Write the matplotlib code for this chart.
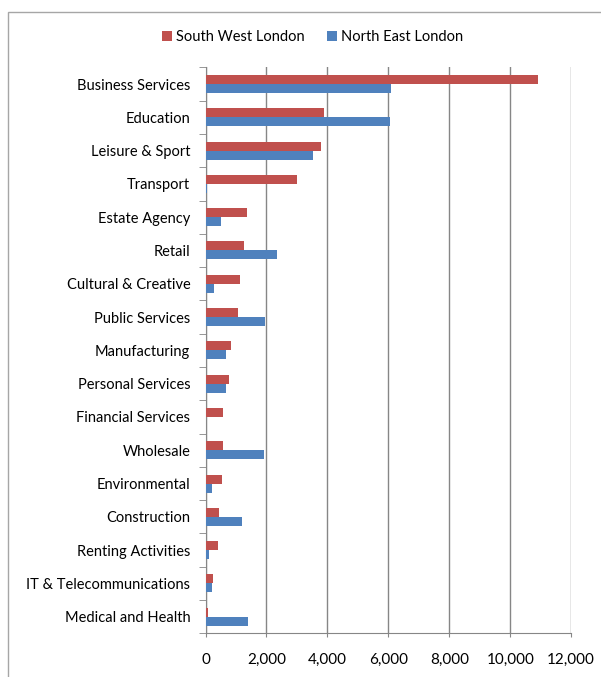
import matplotlib.pyplot as plt
import numpy as np
from matplotlib.patches import Rectangle

categories = ['Business Services', 'Education', 'Leisure & Sport', 'Transport',
              'Estate Agency', 'Retail', 'Cultural & Creative', 'Public Services',
              'Manufacturing', 'Personal Services', 'Financial Services', 'Wholesale',
              'Environmental', 'Construction', 'Renting Activities',
              'IT & Telecommunications', 'Medical and Health']
south_west = [10900, 3880, 3790, 3000, 1370, 1270, 1120, 1080, 830, 770,
              580, 580, 540, 450, 410, 230, 70]
north_east = [6080, 6050, 3530, 40, 510, 2340, 280, 1960, 670, 670,
              0, 1920, 220, 1210, 100, 200, 1400]

plt.rcParams['font.family'] = ['Lato', 'DejaVu Sans']

fig = plt.figure(figsize=(6.01, 6.77), dpi=100)
ax = fig.add_axes([0.342, 0.0645, 0.6084, 0.836])

n = len(categories)
y = np.arange(n)
h = 0.27
ax.barh(y - h / 2, south_west, height=h, color='#C0504D', label='South West London', zorder=3)
ax.barh(y + h / 2, north_east, height=h, color='#4F81BD', label='North East London', zorder=3)

ax.set_ylim(n - 0.5, -0.5)
ax.set_xlim(0, 12000)
ax.set_xticks(np.arange(0, 12001, 2000))
ax.set_xticklabels([f'{v:,}' for v in range(0, 12001, 2000)], fontsize=11)
ax.set_yticks(y)
ax.set_yticklabels(categories, fontsize=10.5)
ax.set_yticks(np.arange(-0.5, n, 1), minor=True)
ax.tick_params(axis='y', which='major', length=0, pad=11)
ax.tick_params(axis='y', which='minor', length=5, color='#868686')
ax.tick_params(axis='x', length=3, color='#868686', pad=11)

ax.grid(axis='x', color='#868686', linewidth=1, zorder=0)
for side in ['top', 'right']:
    ax.spines[side].set_visible(False)
for side in ['left', 'bottom']:
    ax.spines[side].set_color('#868686')

handles, labels = ax.get_legend_handles_labels()
fig.legend(handles, labels, loc='center', bbox_to_anchor=(0.52, 0.945), ncol=2,
           frameon=False, fontsize=10.5, handlelength=0.7, handleheight=0.7,
           handletextpad=0.3, columnspacing=1.5)

# chart area border (cut at right and bottom like the source image)
fig.patches.append(Rectangle((8 / 601, -0.1), 1.2, 1 - 12 / 677 + 0.1,
                             transform=fig.transFigure, fill=False,
                             edgecolor='#A6A6A6', linewidth=1))

fig.savefig('out.png', dpi=100)
